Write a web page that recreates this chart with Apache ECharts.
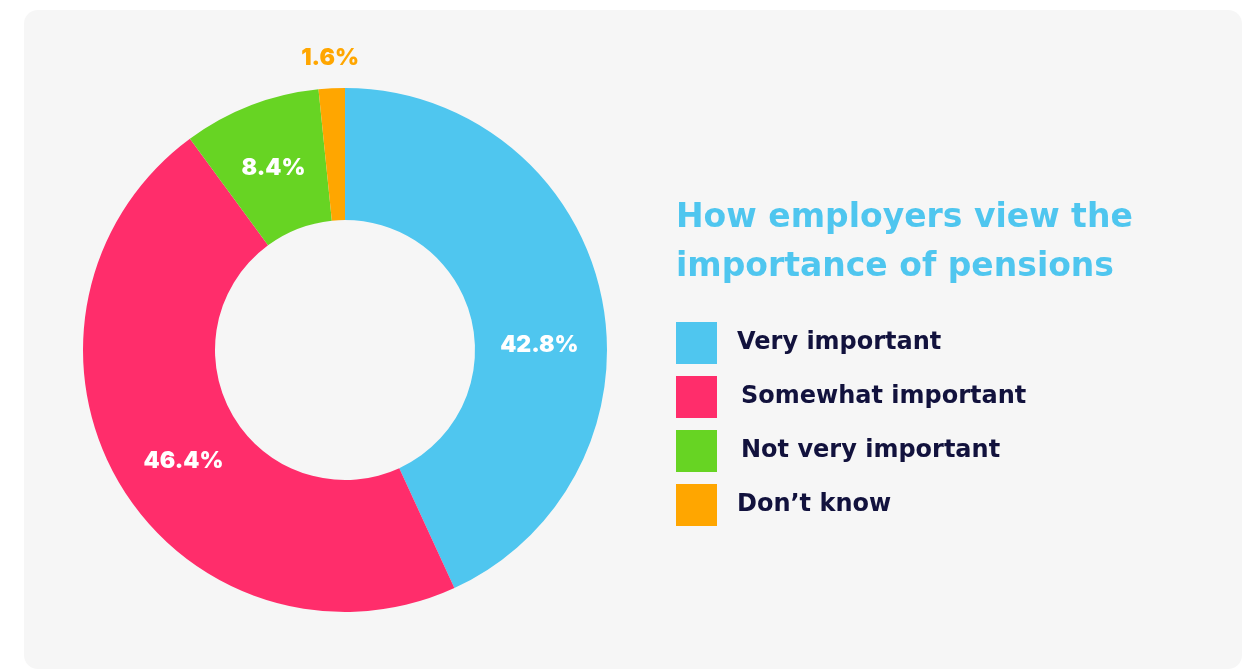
<!DOCTYPE html>
<html>
<head>
<meta charset="utf-8">
<title>How employers view the importance of pensions</title>
<script src="https://cdn.jsdelivr.net/npm/echarts@6/dist/echarts.min.js"></script>
<style>
  html, body { margin: 0; padding: 0; background: #ffffff; }
  #chart { width: 1249px; height: 670px; }
</style>
</head>
<body>
<div id="chart"></div>
<script>
// Survey answers and their shares (%)
const categories = ['Very important', 'Somewhat important', 'Not very important', "Don\u2019t know"];
const shares = [42.8, 46.4, 8.4, 1.6];
const colors = ['#4fc6ef', '#ff2d6b', '#67d423', '#ffa600'];
const titleLines = ['How employers view the', 'importance of pensions'];

const chart = echarts.init(document.getElementById('chart'), null, { renderer: 'canvas' });

const labelFont = 'Inter, "DejaVu Sans", sans-serif';
const wideFont = '"DejaVu Sans", Inter, sans-serif';

// nudges that keep the in-ring labels in their usual spots
const labelNudges = [
  { dy: 38 },
  { dx: 10, dy: 10 },
  { dy: 4 },
  { align: 'center', dy: 2 }
];

// legend captions sit a touch further from the swatch on some rows
const legendIndent = [15, 19, 19, 15];

chart.setOption({
  backgroundColor: '#ffffff',
  animation: false,
  color: colors,
  graphic: [{
    type: 'rect',
    z: -10,
    silent: true,
    shape: { x: 24, y: 10, width: 1218, height: 659, r: 14 },
    style: { fill: '#f6f6f6' }
  }],
  title: {
    text: titleLines.join('\n'),
    left: 671,
    top: 189,
    textStyle: {
      color: '#4fc6ef',
      fontFamily: wideFont,
      fontWeight: 'bold',
      fontSize: 33,
      lineHeight: 49
    }
  },
  legend: {
    orient: 'vertical',
    left: 676,
    top: 322,
    padding: 0,
    icon: 'rect',
    itemWidth: 41,
    itemHeight: 42,
    itemGap: 12,
    selectedMode: false,
    data: categories.map(function (name, i) {
      return { name: name, textStyle: { padding: [5, 0, 0, legendIndent[i]] } };
    }),
    textStyle: {
      color: '#12123d',
      fontFamily: wideFont,
      fontWeight: 'bold',
      fontSize: 24
    }
  },
  series: [{
    type: 'pie',
    center: [345, 350],
    radius: [130, 262],
    startAngle: 90,
    clockwise: true,
    silent: true,
    label: {
      show: true,
      position: 'inside',
      formatter: '{c}%',
      color: '#ffffff',
      fontFamily: labelFont,
      fontWeight: 900,
      fontSize: 23
    },
    labelLine: { show: false },
    labelLayout: function (params) {
      return labelNudges[params.dataIndex] || {};
    },
    data: categories.map(function (name, i) {
      const item = { name: name, value: shares[i] };
      if (i === 3) {
        item.label = {
          position: 'outside',
          color: colors[3],
          distanceToLabelLine: 0
        };
        item.labelLine = { show: false, length: 32, length2: 0 };
      }
      return item;
    })
  }]
});
</script>
</body>
</html>
